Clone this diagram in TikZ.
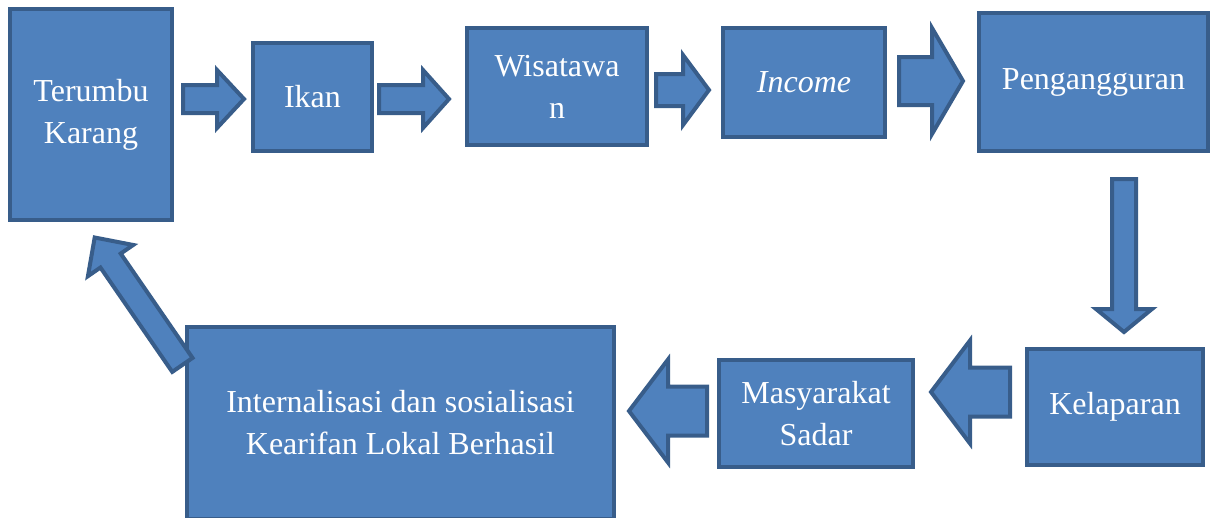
\documentclass[tikz,border=0pt]{standalone}
\usepackage{fontspec}
\setmainfont{Liberation Serif}
\usetikzlibrary{calc}
\definecolor{boxfill}{RGB}{79,129,189}
\definecolor{boxline}{RGB}{56,93,138}
% #1 start, #2 tip, #3 shaft half width, #4 head half width, #5 head length
\newcommand{\myblockarrow}[5]{%
  \coordinate (ba-h) at ($(#2)!#5pt!(#1)$);
  \draw[blk] ($(#1)!#3pt!90:(#2)$) -- ($(ba-h)!#3pt!-90:(#1)$) -- ($(ba-h)!#4pt!-90:(#1)$)
    -- (#2) -- ($(ba-h)!#4pt!90:(#1)$) -- ($(ba-h)!#3pt!90:(#1)$) -- ($(#1)!#3pt!-90:(#2)$) -- cycle;
}
\begin{document}
\begin{tikzpicture}[x=1pt,y=-1pt,
  box/.style={draw=boxline, fill=boxfill, line width=4pt, rectangle, inner sep=0pt,
    text=white, align=center, font=\fontsize{32}{42}\selectfont},
  blk/.style={draw=boxline, fill=boxfill, line width=4pt, line join=miter}]
\clip (0,0) rectangle (1210,517);
% boxes
\node[box, minimum width=162pt, minimum height=211pt] (terumbu) at (91,114.5) {Terumbu\\Karang};
\node[box, minimum width=119pt, minimum height=108pt] (ikan) at (312.5,97) {Ikan};
\node[box, minimum width=180pt, minimum height=117pt] (wisata) at (557,86.5) {Wisatawa\\n};
\node[box, minimum width=162pt, minimum height=109pt] (income) at (804,82.5) {\itshape Income};
\node[box, minimum width=229pt, minimum height=138pt] (peng) at (1093.5,82) {Pengangguran};
\node[box, minimum width=176pt, minimum height=116pt] (lapar) at (1115,407) {Kelaparan};
\node[box, minimum width=194pt, minimum height=107pt] (sadar) at (816,413.5) {Masyarakat\\Sadar};
\node[box, minimum width=427pt, minimum height=192pt] (intern) at (400.5,423) {Internalisasi dan sosialisasi\\Kearifan Lokal Berhasil};
% block arrow end points
\coordinate (a1s) at (183,99);   \coordinate (a1t) at (244,99);
\coordinate (a2s) at (379,99);   \coordinate (a2t) at (449,99);
\coordinate (a3s) at (656,90);   \coordinate (a3t) at (709,90);
\coordinate (a4s) at (899,81);   \coordinate (a4t) at (963,81);
\coordinate (a5s) at (1124,179); \coordinate (a5t) at (1124,332);
\coordinate (a6s) at (1010,392); \coordinate (a6t) at (931,392);
\coordinate (a7s) at (707,411);  \coordinate (a7t) at (629,411);
\coordinate (a8s) at (182.4,364.9); \coordinate (a8t) at (94.7,237.5);
\myblockarrow{a1s}{a1t}{14}{29}{27}
\myblockarrow{a2s}{a2t}{14}{29}{26}
\myblockarrow{a3s}{a3t}{16}{35}{26}
\myblockarrow{a4s}{a4t}{24}{53}{31}
\myblockarrow{a5s}{a5t}{12}{28}{23}
\myblockarrow{a6s}{a6t}{24.5}{51.5}{39}
\myblockarrow{a7s}{a7t}{24.5}{51.5}{39}
\myblockarrow{a8s}{a8t}{12.3}{27.5}{28}
\end{tikzpicture}
\end{document}
